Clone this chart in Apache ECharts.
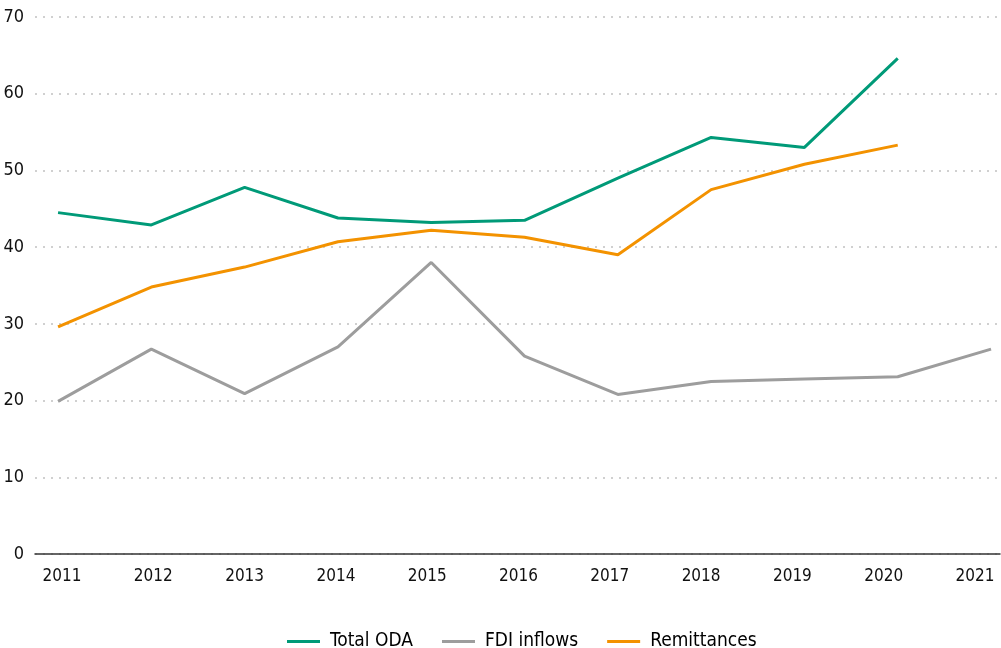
<!DOCTYPE html>
<html>
<head>
<meta charset="utf-8">
<script src="https://cdn.jsdelivr.net/npm/echarts@6/dist/echarts.min.js"></script>
<style>
html,body{margin:0;padding:0;background:#fff;}
#chart{width:1001px;height:648px;}
</style>
</head>
<body>
<div id="chart"></div>
<script>
var years = [2011, 2012, 2013, 2014, 2015, 2016, 2017, 2018, 2019, 2020, 2021];
var totalODA = [44.5, 42.9, 47.8, 43.8, 43.2, 43.5, 49.0, 54.3, 53.0, 64.6, null];
var fdiInflows = [19.9, 26.7, 20.9, 27.0, 38.0, 25.8, 20.8, 22.5, 22.8, 23.1, 26.7];
var remittances = [29.6, 34.8, 37.4, 40.7, 42.2, 41.3, 39.0, 47.5, 50.8, 53.3, null];
var yTicks = [0, 10, 20, 30, 40, 50, 60, 70];

var FONT = '"Liberation Sans Narrow", "DejaVu Sans Condensed", "Roboto", sans-serif';

function pairs(vals) {
  var out = [];
  for (var i = 0; i < years.length; i++) {
    if (vals[i] !== null) out.push([years[i], vals[i]]);
  }
  return out;
}

var chart = echarts.init(document.getElementById('chart'), null, {renderer: 'canvas'});
chart.setOption({
  animation: false,
  backgroundColor: '#fff',
  grid: {left: 35, right: 1, top: 17, bottom: 94, containLabel: false, outerBoundsMode: 'none'},
  legend: {
    top: 627,
    left: 282,
    icon: 'rect',
    itemWidth: 33,
    itemHeight: 3,
    itemGap: 29,
    textStyle: {fontFamily: FONT, fontSize: 19, color: '#000', padding: [0, 0, 0, 5]},
    data: ['Total ODA', 'FDI inflows', 'Remittances']
  },
  xAxis: [
    {
      type: 'value',
      min: 2010.753,
      max: 2021.096,
      splitLine: {show: false},
      axisLine: {show: true, lineStyle: {color: '#333', width: 1.5}},
      axisTick: {show: false},
      axisLabel: {show: false}
    },
    {
      type: 'value',
      position: 'bottom',
      min: 2010.704,
      max: 2021.274,
      splitLine: {show: false},
      axisLine: {show: false},
      axisTick: {show: false},
      axisLabel: {
        customValues: years,
        fontFamily: FONT, fontSize: 17, color: '#111', margin: 14,
        formatter: function (v) { return String(Math.round(v)); }
      }
    }
  ],
  yAxis: {
    type: 'value',
    min: 0,
    max: 70,
    interval: 10,
    axisLine: {show: false},
    axisTick: {show: false},
    axisLabel: {
      customValues: yTicks,
      fontFamily: FONT, fontSize: 18, color: '#111', margin: 11
    },
    splitLine: {show: true, lineStyle: {color: '#d0d0d0', type: [2, 6], width: 2}}
  },
  series: [
    {name: 'Total ODA', type: 'line', xAxisIndex: 0, data: pairs(totalODA), symbol: 'none',
     lineStyle: {color: '#009a78', width: 3}, itemStyle: {color: '#009a78'}},
    {name: 'FDI inflows', type: 'line', xAxisIndex: 0, data: pairs(fdiInflows), symbol: 'none',
     lineStyle: {color: '#9d9d9d', width: 3}, itemStyle: {color: '#9d9d9d'}},
    {name: 'Remittances', type: 'line', xAxisIndex: 0, data: pairs(remittances), symbol: 'none',
     lineStyle: {color: '#f39200', width: 3}, itemStyle: {color: '#f39200'}}
  ]
});
</script>
</body>
</html>
